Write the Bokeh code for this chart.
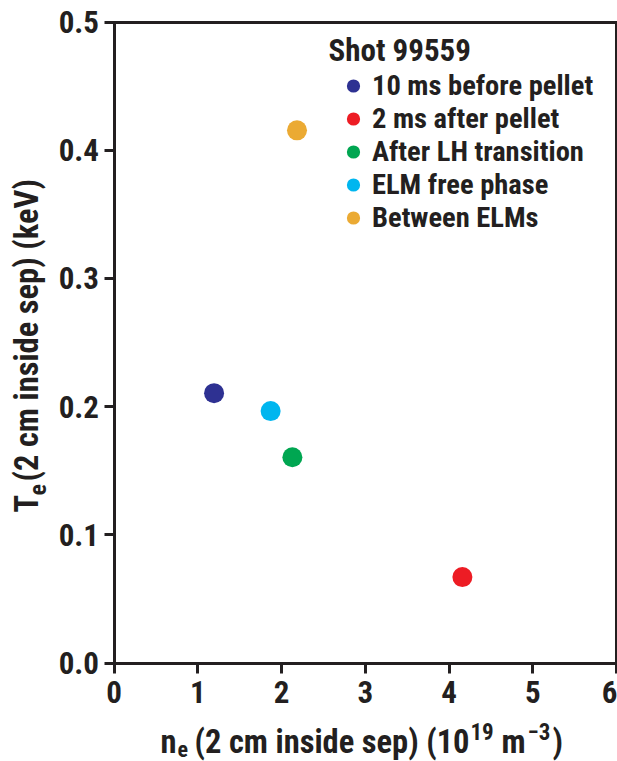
import math
from bokeh.plotting import figure
from bokeh.models import (ColumnDataSource, Range1d, FixedTicker, Legend, LegendItem, Label, LinearAxis)
from bokeh.embed import file_html
from bokeh.resources import INLINE

# ---- data ----
phases = ["10 ms before pellet", "2 ms after pellet", "After LH transition",
          "ELM free phase", "Between ELMs"]
ne = [1.195, 4.16, 2.13, 1.87, 2.185]          # 10^19 m^-3
te = [0.2105, 0.067, 0.1605, 0.1965, 0.4155]   # keV
colors = ["#2e3192", "#ed1c24", "#00a651", "#00b6ef", "#ebaa33"]
x_ticks = [0, 1, 2, 3, 4, 5, 6]
y_ticks = [0.0, 0.1, 0.2, 0.3, 0.4, 0.5]
y_tick_labels = ["0.0", "0.1", "0.2", "0.3", "0.4", "0.5"]
legend_title = "Shot 99559"

FONT = '"Roboto Condensed", "Liberation Sans", sans-serif'
INK = "#231f20"

W, H = 617, 761
# pixel geometry of the plotting box
PX0, PX1 = 113.5, 616.0     # x = 0 .. 6
PY0, PY1 = 662.5, 21.5      # y = 0 .. 0.5
XA, XB, YA, YB = 0.0, 6.0, 0.0, 0.5
sx = (XB - XA) / (PX1 - PX0)
sy = (YB - YA) / (PY0 - PY1)

def px2x(px):
    return XA + (px - PX0) * sx

def py2y(py):
    return YA + (PY0 - py) * sy

p = figure(width=W, height=H, output_backend="svg", toolbar_location=None,
           x_range=Range1d(px2x(0), px2x(W)), y_range=Range1d(py2y(H), py2y(0)),
           min_border=0, min_border_left=0, min_border_right=0,
           min_border_top=0, min_border_bottom=0)
p.background_fill_color = "white"
p.border_fill_color = "white"
p.outline_line_color = None
p.xgrid.visible = False
p.ygrid.visible = False

top_ax = LinearAxis(ticker=FixedTicker(ticks=[]))
right_ax = LinearAxis(ticker=FixedTicker(ticks=[]))
p.add_layout(top_ax, "above")
p.add_layout(right_ax, "right")
bx = p.below[0]
ly = p.left[0]

def style_axis(ax):
    ax.axis_line_color = INK
    ax.axis_line_width = 3
    ax.axis_line_cap = "square"
    ax.major_tick_line_color = INK
    ax.major_tick_line_width = 3
    ax.major_tick_out = 10
    ax.major_tick_in = 0
    ax.minor_tick_line_color = None
    ax.major_label_text_font = FONT
    ax.major_label_text_font_style = "bold"
    ax.major_label_text_font_size = "31px"
    ax.major_label_text_color = INK
    ax.axis_label = None

for ax in (bx, ly, top_ax, right_ax):
    style_axis(ax)

bx.fixed_location = YA
bx.bounds = (XA, XB)
bx.ticker = FixedTicker(ticks=x_ticks)
bx.major_label_standoff = 8
ly.fixed_location = XA
ly.bounds = (YA, YB)
ly.ticker = FixedTicker(ticks=y_ticks)
ly.major_label_overrides = {t: l for t, l in zip(y_ticks, y_tick_labels)}
ly.major_label_standoff = 5
top_ax.fixed_location = YB
top_ax.bounds = (XA, XB)
top_ax.major_label_text_font_size = "0px"
right_ax.fixed_location = XB
right_ax.bounds = (YA, YB)
right_ax.major_label_text_font_size = "0px"

src = ColumnDataSource(dict(ne=ne, te=te, color=colors, phase=phases))
r = p.scatter("ne", "te", source=src, size=20, fill_color="color", line_color=None)

items = [LegendItem(label=ph, renderers=[r], index=i) for i, ph in enumerate(phases)]
leg = Legend(items=items,
             location=(334, H - 234),
             padding=0, margin=0, spacing=0,
             glyph_height=33, glyph_width=38, label_height=33,
             label_standoff=0,
             label_text_font=FONT, label_text_font_style="bold",
             label_text_font_size="28.5px", label_text_color=INK,
             background_fill_alpha=0, border_line_alpha=0)
p.add_layout(leg, "center")

BASE_SHIFT = 0.33   # empirical: Bokeh places the alphabetic baseline this many em below the anchor

def piece(txt, px, base, size, angle=0.0):
    if angle == 0.0:
        ax_, ay_ = px, base - BASE_SHIFT * size
    else:
        ax_, ay_ = base - BASE_SHIFT * size, px
    p.add_layout(Label(x=px2x(ax_), y=py2y(ay_), text=txt, angle=angle,
                       text_font=FONT, text_font_style="bold",
                       text_font_size=f"{size}px", text_color=INK,
                       text_align="left", text_baseline="alphabetic"))

piece(legend_title, 328, 60, 31)

# x axis title: n_e (2 cm inside sep) (10^19 m^-3)
piece("n", 160, 752, 32.5)
piece("e", 177, 756, 22)
piece("(2 cm inside sep) (10", 194, 752, 32.5)
piece("19", 470, 739, 23)
piece("m", 501, 752, 32.5)
piece("\u22123", 527, 739, 23)
piece(")", 552, 752, 32.5)

# y axis title: T_e (2 cm inside sep) (keV)
A = math.pi / 2
piece("T", 512, 37, 32.5, A)
piece("e", 495, 45, 24, A)
piece("(2 cm inside sep) (keV)", 481, 37, 32.5, A)

open("out.html", "w").write(file_html(p, INLINE))
